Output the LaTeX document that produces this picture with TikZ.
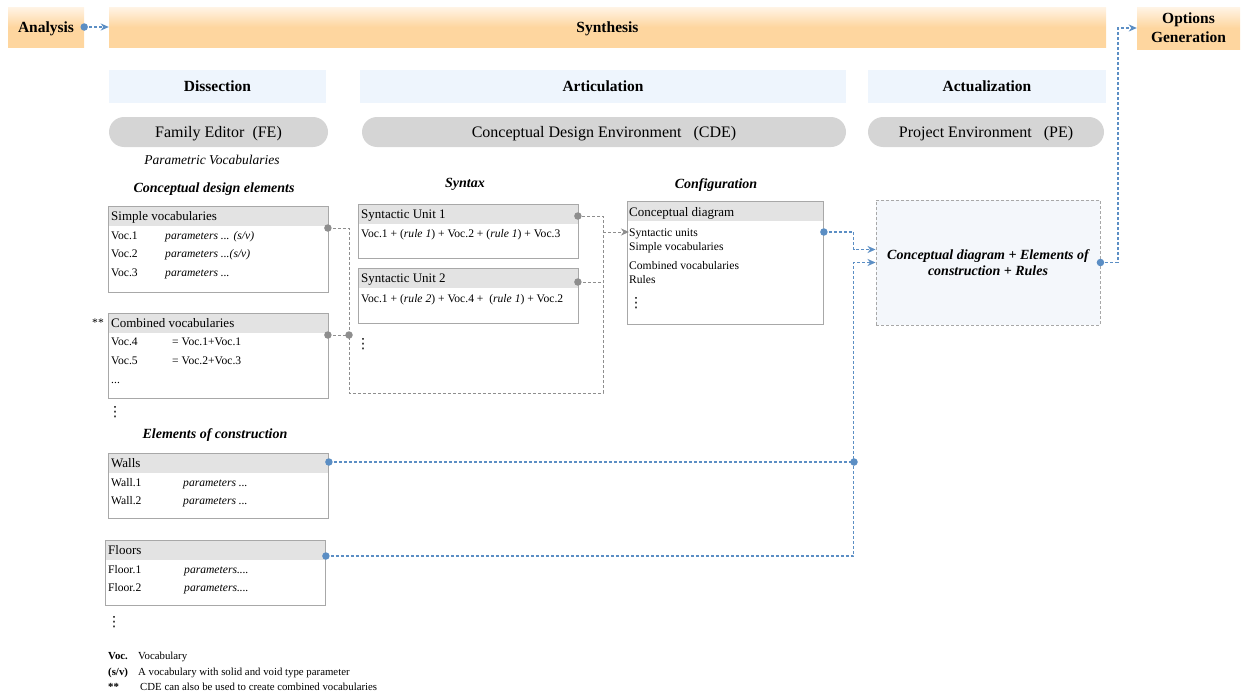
\documentclass[tikz,border=0pt]{standalone}
\usepackage{fontspec}
\setmainfont{Liberation Serif}
\newfontfamily\dotsfont{DejaVu Sans}
\usetikzlibrary{positioning,calc,arrows.meta}

\definecolor{orangetop}{HTML}{FFF4E6}
\definecolor{orangebot}{HTML}{FED69F}
\definecolor{stageblue}{HTML}{EEF5FD}
\definecolor{pillgray}{HTML}{D5D5D5}
\definecolor{headgray}{HTML}{E3E3E3}
\definecolor{boxline}{HTML}{A8A8A8}
\definecolor{linkblue}{HTML}{5B8EC4}
\definecolor{linkgray}{HTML}{8E8E8E}
\definecolor{targetfill}{HTML}{F4F7FB}

\tikzset{
    phase/.style={top color=orangetop, bottom color=orangebot, middle color=orangebot,
        inner sep=0pt, text depth=0pt, font=\bfseries\fontsize{15.5}{19}\selectfont},
    stage/.style={fill=stageblue, inner sep=0pt, minimum height=33, text depth=0pt,
        font=\bfseries\fontsize{15.5}{19}\selectfont},
    pill/.style={fill=pillgray, rounded corners=15, inner sep=0pt, minimum height=30,
        text depth=0pt, font=\fontsize{16}{19}\selectfont},
    title/.style={inner sep=0pt, font=\bfseries\itshape\fontsize{14}{16}\selectfont},
    listbox/.style={draw=boxline, line width=0.9pt, anchor=north west, inner sep=0pt,
        path picture={\fill[headgray] (path picture bounding box.north west)
            rectangle ([yshift=-20pt]path picture bounding box.north east);}},
    headtext/.style={anchor=west, inner sep=0pt, text height=11pt, text depth=2pt,
        font=\fontsize{13}{15}\selectfont},
    item/.style={anchor=west, inner sep=0pt, text height=10.5pt, text depth=1.5pt,
        font=\fontsize{11.6}{13}\selectfont},
    param/.style={item, font=\itshape\fontsize{11.6}{13}\selectfont},
    legend/.style={anchor=west, inner sep=0pt, text height=8.5pt, text depth=2pt,
        font=\fontsize{10.8}{12}\selectfont},
    graylink/.style={linkgray, line width=0.9pt, dash pattern=on 3pt off 2pt},
    bluelink/.style={linkblue, line width=1.4pt, dash pattern=on 3pt off 2pt},
    tip/.style={-{Stealth[length=8pt,width=7pt,inset=2.5pt]}},
    dot/.style={circle, inner sep=0pt, minimum size=7.5pt},
    moredots/.style={inner sep=0pt, font=\dotsfont\fontsize{14}{14}\selectfont}
}

\begin{document}
\begin{tikzpicture}[x=1pt,y=-1pt]
    \useasboundingbox (0,0) rectangle (1243,696);

    % phases
    \node[phase, minimum width=76, minimum height=40] (analysis) at (46,27) {Analysis};
    \node[phase, minimum width=997, minimum height=40] (synthesis) at (607.5,27) {Synthesis};
    \node[phase, minimum width=103, minimum height=42, align=center] (options) at (1188.5,28) {Options\\Generation};

    % stages and environments
    \node[stage, minimum width=217] (dissection) at (217.5,86.5) {Dissection};
    \node[stage, minimum width=486] (articulation) at (603,86.5) {Articulation};
    \node[stage, minimum width=238] (actualization) at (987,86.5) {Actualization};
    \node[pill, minimum width=219] (fe) at (218.5,132) {Family Editor\ \ (FE)};
    \node[pill, minimum width=484] (cde) at (604,132) {Conceptual Design Environment\ \ \ (CDE)};
    \node[pill, minimum width=236] (pe) at (986,132) {Project Environment\ \ \ (PE)};

    \node[inner sep=0pt, font=\itshape\fontsize{13.5}{16}\selectfont] (paramvoc) at (212,160) {Parametric Vocabularies};
    \node[title] (cdetitle) at (214,189) {Conceptual design elements};
    \node[title] (syntax) at (465,184) {Syntax};
    \node[title] (configuration) at (716,185) {Configuration};
    \node[title] (elemtitle) at (215,435) {Elements of construction};

    % conceptual design elements
    \node[listbox, minimum width=220, minimum height=86] (simple) at (108,206) {};
    \node[headtext] (simplehd) at (111,216) {Simple vocabularies};
    \node[item] (voc1) at (111,235) {Voc.1};
    \node[param] (voc1p) at (165,235) {parameters ... (s/v)};
    \node[item] (voc2) at (111,253) {Voc.2};
    \node[param] (voc2p) at (165,253) {parameters ...(s/v)};
    \node[item] (voc3) at (111,272) {Voc.3};
    \node[param] (voc3p) at (165,272) {parameters ...};

    \node[listbox, minimum width=220, minimum height=85] (combined) at (108,313) {};
    \node[item, anchor=center] (stars) at (98,322) {**};
    \node[headtext] (combinedhd) at (111,323) {Combined vocabularies};
    \node[item] (voc4) at (111,341) {Voc.4};
    \node[item] (voc4p) at (172,341) {= Voc.1+Voc.1};
    \node[item] (voc5) at (111,360) {Voc.5};
    \node[item] (voc5p) at (172,360) {= Voc.2+Voc.3};
    \node[item] (vocmore) at (111,379) {...};
    \node[moredots] (cdemore) at (115,412) {⋮};

    % elements of construction
    \node[listbox, minimum width=220, minimum height=65] (walls) at (108,453) {};
    \node[headtext] (wallshd) at (111,463) {Walls};
    \node[item] (wall1) at (111,482) {Wall.1};
    \node[param] (wall1p) at (183,482) {parameters ...};
    \node[item] (wall2) at (111,500) {Wall.2};
    \node[param] (wall2p) at (183,500) {parameters ...};

    \node[listbox, minimum width=220, minimum height=65] (floors) at (105,540) {};
    \node[headtext] (floorshd) at (108,550) {Floors};
    \node[item] (floor1) at (108,569) {Floor.1};
    \node[param] (floor1p) at (184,569) {parameters....};
    \node[item] (floor2) at (108,587) {Floor.2};
    \node[param] (floor2p) at (184,587) {parameters....};
    \node[moredots] (elemmore) at (114,622) {⋮};

    % syntax
    \node[listbox, minimum width=220, minimum height=54] (su1) at (358,204) {};
    \node[headtext] (su1hd) at (361,214) {Syntactic Unit 1};
    \node[item] (su1rule) at (361,233) {Voc.1 + (\textit{rule 1}) + Voc.2 + (\textit{rule 1}) + Voc.3};
    \node[listbox, minimum width=220, minimum height=55] (su2) at (358,268) {};
    \node[headtext] (su2hd) at (361,278) {Syntactic Unit 2};
    \node[item] (su2rule) at (361,298) {Voc.1 + (\textit{rule 2}) + Voc.4 +\ \ (\textit{rule 1}) + Voc.2};
    \node[moredots] (sumore) at (363,344) {⋮};

    % configuration
    \node[listbox, minimum width=196, minimum height=123] (config) at (627,201) {};
    \node[headtext] (confighd) at (629,212) {Conceptual diagram};
    \node[item] (synunits) at (629,232) {Syntactic units};
    \node[item] (simvocs) at (629,246) {Simple vocabularies};
    \node[item] (comvocs) at (629,265) {Combined vocabularies};
    \node[item] (rules) at (629,279) {Rules};
    \node[moredots] (configmore) at (636,303) {⋮};

    % actualization
    \node[draw=boxline, fill=targetfill, line width=0.9pt, dash pattern=on 3pt off 2pt,
        minimum width=224, minimum height=125, align=center,
        font=\bfseries\itshape\fontsize{14}{16}\selectfont] (target) at (988,262.5)
        {Conceptual diagram + Elements of\\construction + Rules};

    % legend
    \node[legend, font=\bfseries\fontsize{10.8}{12}\selectfont] (kvoc) at (108,656) {Voc.};
    \node[legend] (tvoc) at (138,656) {Vocabulary};
    \node[legend, font=\bfseries\fontsize{10.8}{12}\selectfont] (ksv) at (108,672) {(s/v)};
    \node[legend] (tsv) at (138,672) {A vocabulary with solid and void type parameter};
    \node[legend, font=\bfseries\fontsize{10.8}{12}\selectfont] (kstar) at (108,687) {**};
    \node[legend] (tstar) at (140,687) {CDE can also be used to create combined vocabularies};

    % gray links into the configuration
    \coordinate (simpleout) at ($(simple.north east)+(-1,22)$);
    \coordinate (combinedout) at ($(combined.north east)+(-1,22)$);
    \coordinate (su1out) at ($(su1.north east)+(-1,12)$);
    \coordinate (su2out) at ($(su2.north east)+(-1,14)$);
    \coordinate (loopsw) at (349,393);
    \coordinate (loopse) at (603,393);
    \draw[graylink] (simpleout) -| (loopsw) -- (loopse) |- (su1out);
    \draw[graylink] (combinedout) -- (combinedout -| loopsw);
    \draw[graylink] (su2out) -- (su2out -| loopse);
    \draw[graylink, tip] (synunits.west -| loopse) -- (synunits.west);
    \foreach \p in {simpleout, combinedout, su1out, su2out}
        \node[dot, fill=linkgray] at (\p) {};
    \node[dot, fill=linkgray] at (combinedout -| loopsw) {};

    % blue links
    \coordinate (configout) at ($(config.north east)+(0,31)$);
    \coordinate (tin1) at ($(target.west)+(0,-13)$);
    \coordinate (tin2) at (target.west);
    \coordinate (wallsout) at ($(walls.north east)+(0,9)$);
    \coordinate (floorsout) at ($(floors.north east)+(0,16)$);
    \coordinate (bus) at (854,462);
    \draw[bluelink, tip] (analysis.east) -- (synthesis.west);
    \draw[bluelink, tip] (configout) -| ($(tin1)+(-22,0)$) -- (tin1);
    \draw[bluelink, tip] (floorsout) -| ($(tin2)+(-22,0)$) -- (tin2);
    \draw[bluelink] (wallsout) -- (bus);
    \draw[bluelink, tip] (target.east) -- (1118,262.5) |- (options.west);
    \foreach \p in {analysis.east, configout, wallsout, floorsout, bus, target.east}
        \node[dot, fill=linkblue] at (\p) {};
\end{tikzpicture}
\end{document}
